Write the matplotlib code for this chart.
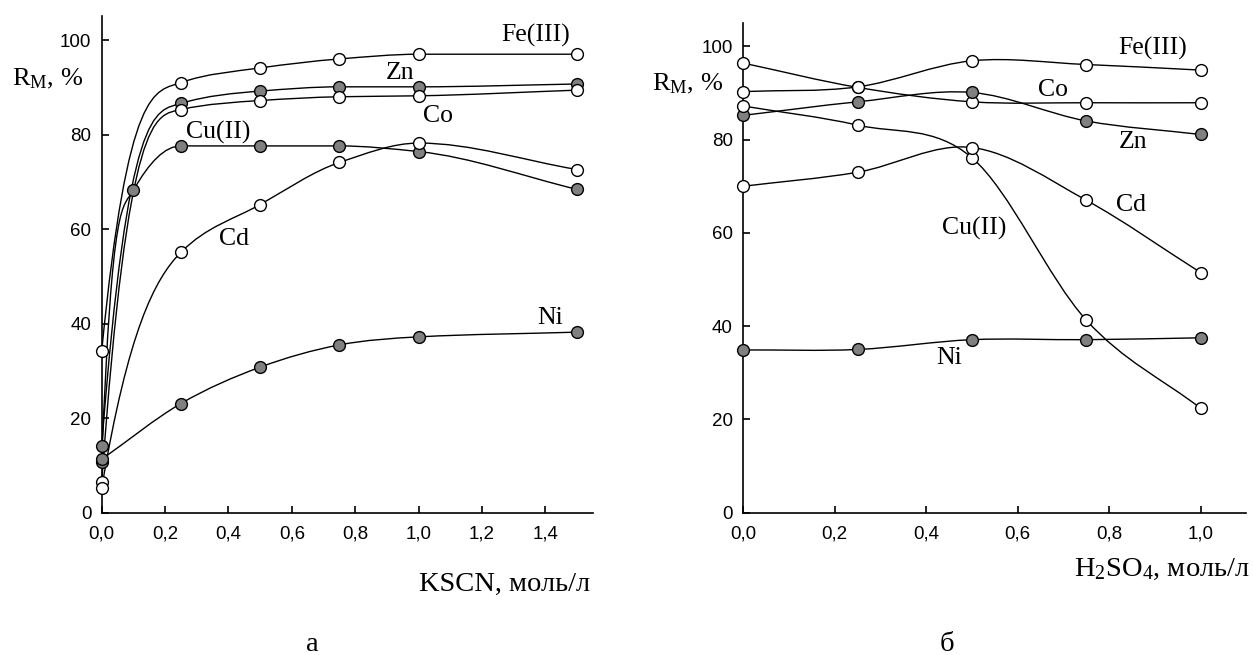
import numpy as np
import matplotlib
matplotlib.use('Agg')
import matplotlib.pyplot as plt
from matplotlib.path import Path
from matplotlib.patches import PathPatch

# panel a: extraction vs KSCN concentration
kscn_x = [0.0, 0.25, 0.5, 0.75, 1.0, 1.5]
kscn_cu_x = [0.0, 0.1, 0.25, 0.5, 0.75, 1.0, 1.5]
kscn_fe = [34.2, 91.0, 94.1, 96.0, 97.0, 97.0]
kscn_zn = [14.1, 86.6, 89.2, 90.1, 90.1, 90.7]
kscn_co = [6.4, 85.3, 87.2, 88.0, 88.2, 89.4]
kscn_cu = [10.8, 68.2, 77.6, 77.6, 77.6, 76.4, 68.4]
kscn_cd = [5.2, 55.1, 65.2, 74.1, 78.2, 72.6]
kscn_ni = [11.3, 23.1, 30.8, 35.5, 37.2, 38.2]

# panel b: extraction vs H2SO4 concentration
acid_x = [0.0, 0.25, 0.5, 0.75, 1.0]
acid_fe = [90.3, 91.3, 96.9, 96.1, 94.9]
acid_co = [96.4, 91.2, 88.1, 87.9, 87.9]
acid_zn = [85.2, 88.1, 90.1, 84.0, 81.1]
acid_cu = [87.2, 83.1, 76.1, 41.3, 22.4]
acid_cd = [70.0, 73.0, 78.3, 67.0, 51.5]
acid_ni = [34.9, 35.0, 37.1, 37.1, 37.5]

W, H = 1253, 655
plt.rcParams['font.family'] = ['Liberation Serif', 'DejaVu Serif']
plt.rcParams['mathtext.fontset'] = 'custom'
plt.rcParams['mathtext.rm'] = 'Liberation Serif'
plt.rcParams['mathtext.it'] = 'Liberation Serif:italic'

OPEN = 'white'
FILLED = '#808080'


def curve(ax, x, y, mode='pchip', start=1.0):
    # smooth line through the points, drawn as cubic bezier segments
    x = np.asarray(x, float)
    y = np.asarray(y, float)
    h = np.diff(x)
    d = np.diff(y) / h
    m = np.zeros_like(y)
    for i in range(1, len(x) - 1):
        if mode == 'pchip':
            if d[i - 1] * d[i] <= 0:
                m[i] = 0.0
            else:
                w1 = 2 * h[i] + h[i - 1]
                w2 = h[i] + 2 * h[i - 1]
                m[i] = (w1 + w2) / (w1 / d[i - 1] + w2 / d[i])
        else:
            m[i] = (y[i + 1] - y[i - 1]) / (x[i + 1] - x[i - 1])
    m[0] = start * d[0]
    m[-1] = d[-1]
    verts = [(x[0], y[0])]
    codes = [Path.MOVETO]
    for i in range(len(x) - 1):
        verts += [(x[i] + h[i] / 3, y[i] + m[i] * h[i] / 3),
                  (x[i + 1] - h[i] / 3, y[i + 1] - m[i + 1] * h[i] / 3),
                  (x[i + 1], y[i + 1])]
        codes += [Path.CURVE4] * 3
    ax.add_patch(PathPatch(Path(verts, codes), fill=False, lw=1.0,
                           edgecolor='black', zorder=2, clip_on=False))


def points(ax, x, y, face):
    ax.plot(x, y, 'o', ms=8.5, mfc=face, mec='black', mew=1.0,
            clip_on=False, zorder=4)


def style_axes(ax, xmax, xticks):
    ax.set_xlim(0, xmax)
    ax.set_ylim(0, 105)
    for s in ['top', 'right']:
        ax.spines[s].set_visible(False)
    for s in ['left', 'bottom']:
        ax.spines[s].set_linewidth(1.2)
    ax.set_xticks(xticks)
    ax.set_xticklabels([('%.1f' % t).replace('.', ',') for t in xticks])
    ax.set_yticks([0, 20, 40, 60, 80, 100])
    ax.tick_params(direction='in', length=5, width=1.2, labelsize=13.5)
    ax.tick_params(axis='x', pad=9.5)
    ax.tick_params(axis='y', pad=7.5)
    for lab in ax.get_xticklabels() + ax.get_yticklabels():
        lab.set_family('Liberation Sans')


fig = plt.figure(figsize=(W / 100, H / 100), dpi=100)
ax1 = fig.add_axes([101.7 / W, 1 - 512.7 / H, (592.7 - 101.7) / W, (512.7 - 16.4) / H])
ax2 = fig.add_axes([743.3 / W, 1 - 512.7 / H, (1246.3 - 743.3) / W, (512.7 - 23.0) / H])

style_axes(ax1, 1.549, [0.0, 0.2, 0.4, 0.6, 0.8, 1.0, 1.2, 1.4])
style_axes(ax2, 1.1, [0.0, 0.2, 0.4, 0.6, 0.8, 1.0])

for xs, ys, face, mode, k in [(kscn_x, kscn_fe, OPEN, 'pchip', 3.0),
                              (kscn_x, kscn_zn, FILLED, 'pchip', 3.0),
                              (kscn_x, kscn_co, OPEN, 'pchip', 3.0),
                              (kscn_cu_x, kscn_cu, FILLED, 'pchip', 3.0),
                              (kscn_x, kscn_cd, OPEN, 'pchip', 2.0),
                              (kscn_x, kscn_ni, FILLED, 'cardinal', 1.0)]:
    curve(ax1, xs, ys, mode, start=k)
    points(ax1, xs, ys, face)

for ys, face in [(acid_fe, OPEN), (acid_co, OPEN), (acid_zn, FILLED),
                 (acid_cu, OPEN), (acid_cd, OPEN), (acid_ni, FILLED)]:
    curve(ax2, acid_x, ys, 'cardinal')
    points(ax2, acid_x, ys, face)

fs = 18.5
for txt, x, y in [('Fe(III)', 1.37, 101.0), ('Zn', 0.94, 93.0), ('Co', 1.06, 84.0),
                  ('Cu(II)', 0.367, 80.5), ('Cd', 0.418, 57.8), ('Ni', 1.415, 41.2)]:
    ax1.text(x, y, txt, fontsize=fs, ha='center', va='center', zorder=5)
for txt, x, y in [('Fe(III)', 0.895, 99.6), ('Co', 0.677, 90.6), ('Zn', 0.852, 79.5),
                  ('Cd', 0.848, 65.9), ('Cu(II)', 0.504, 61.0), ('Ni', 0.45, 33.1)]:
    ax2.text(x, y, txt, fontsize=fs, ha='center', va='center', zorder=5)

fig.text(12 / W, 1 - 85 / H, r'R$_\mathrm{M}$, %', fontsize=19, ha='left', va='baseline')
fig.text(652 / W, 1 - 90 / H, r'R$_\mathrm{M}$, %', fontsize=19, ha='left', va='baseline')
fig.text(590 / W, 1 - 591 / H, 'KSCN, моль/л', fontsize=20.5, ha='right', va='baseline')
fig.text(1250 / W, 1 - 576 / H, r'H$_\mathrm{2}$SO$_\mathrm{4}$, моль/л', fontsize=20.5,
         ha='right', va='baseline')
fig.text(312 / W, 1 - 651 / H, 'а', fontsize=20.5, ha='center', va='baseline')
fig.text(947 / W, 1 - 651 / H, 'б', fontsize=20.5, ha='center', va='baseline')

fig.savefig('out.png', dpi=100)
